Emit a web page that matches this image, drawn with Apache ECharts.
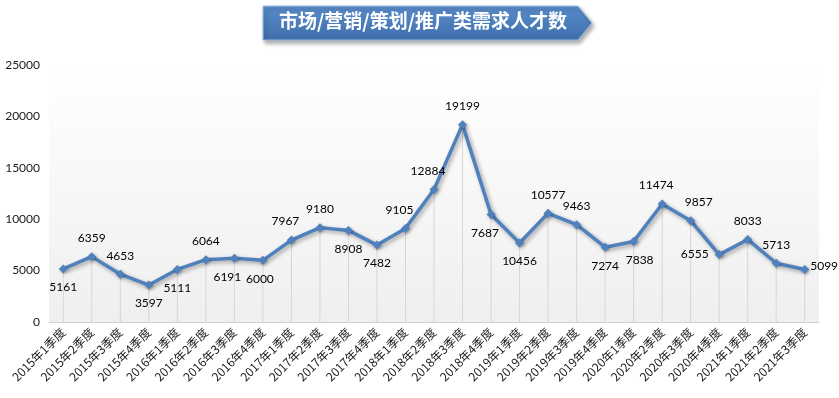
<!DOCTYPE html>
<html>
<head>
<meta charset="utf-8">
<script src="https://cdn.jsdelivr.net/npm/echarts@6/dist/echarts.min.js"></script>
<style>
  html, body { margin: 0; padding: 0; background: #fff; }
  #main { width: 839px; height: 398px; }
</style>
</head>
<body>
<div id="main"></div>
<script>
// 季度
var quarters = [
    '2015年1季度', '2015年2季度', '2015年3季度', '2015年4季度',
    '2016年1季度', '2016年2季度', '2016年3季度', '2016年4季度',
    '2017年1季度', '2017年2季度', '2017年3季度', '2017年4季度',
    '2018年1季度', '2018年2季度', '2018年3季度', '2018年4季度',
    '2019年1季度', '2019年2季度', '2019年3季度', '2019年4季度',
    '2020年1季度', '2020年2季度', '2020年3季度', '2020年4季度',
    '2021年1季度', '2021年2季度', '2021年3季度'
];
// 需求人才数（折线点的高度）
var demand = [
    5161, 6359, 4653, 3597,
    5111, 6064, 6191, 6000,
    7967, 9180, 8908, 7482,
    9105, 12884, 19199, 10456,
    7687, 10577, 9463, 7274,
    7838, 11474, 9857, 6555,
    8033, 5713, 5099
];
// 图上标注的文字（原图 2018年4季度 / 2019年1季度 两个标签是对调的）
var labelText = [
    5161, 6359, 4653, 3597,
    5111, 6064, 6191, 6000,
    7967, 9180, 8908, 7482,
    9105, 12884, 19199, 7687,
    10456, 10577, 9463, 7274,
    7838, 11474, 9857, 6555,
    8033, 5713, 5099
];
// 标签位置
var labelPos = [
    'bottom', 'top', 'top', 'bottom',
    'bottom', 'top', 'bottom', 'bottom',
    'top', 'top', 'bottom', 'bottom',
    'top', 'top', 'top', 'bottom',
    'bottom', 'top', 'top', 'bottom',
    'bottom', 'top', 'top', 'left',
    'top', 'top', 'right'
];
var yTicks = [0, 5000, 10000, 15000, 20000, 25000];

var myChart = echarts.init(document.getElementById('main'));

var lineData = demand.map(function (v, i) {
    var off = [0, 0];
    if (labelPos[i] === 'bottom') off = [0, 2];
    if (labelPos[i] === 'top') off = [0, -2];
    if (i === 6) off = [-7, 2];
    if (i === 7) off = [-3, 2];
    if (i === 15) off = [-6, 2];
    if (i === 8 || i === 12 || i === 13 || i === 21) off = [-6, -2];
    if (i === 20) off = [6, 2];
    if (i === 22) off = [8, -2];
    if (i === 26) off = [-5, -3];
    return {
        value: v,
        label: { position: labelPos[i], offset: off }
    };
});

var option = {
    animation: false,
    grid: {
        left: 49,
        right: 20,
        top: 65,
        bottom: 76,
        show: true,
        borderWidth: 0,
        backgroundColor: {
            type: 'linear', x: 0, y: 0, x2: 0, y2: 1,
            colorStops: [
                { offset: 0, color: '#ffffff' },
                { offset: 1, color: '#efefef' }
            ]
        }
    },
    graphic: [
        {
            type: 'polygon',
            shape: { points: [[263, 6], [578, 6], [592, 23], [578, 40], [263, 40]] },
            style: {
                fill: {
                    type: 'linear', x: 0, y: 0, x2: 0, y2: 1,
                    colorStops: [
                        { offset: 0, color: '#5a8dcc' },
                        { offset: 1, color: '#3e6eab' }
                    ]
                },
                stroke: '#9fbde3',
                lineWidth: 1,
                shadowColor: 'rgba(0,0,0,0.35)',
                shadowBlur: 4,
                shadowOffsetX: 2,
                shadowOffsetY: 3
            }
        },
        {
            type: 'text',
            left: 279,
            top: 11,
            style: {
                text: '市场/营销/策划/推广类需求人才数',
                fill: '#ffffff',
                font: 'bold 19px "Noto Sans CJK SC"'
            }
        }
    ],
    xAxis: {
        type: 'category',
        data: quarters,
        boundaryGap: true,
        axisLine: { lineStyle: { color: '#d0d0d0', width: 1 } },
        axisTick: { show: false },
        splitLine: { show: false },
        axisLabel: {
            interval: 0,
            rotate: 45,
            margin: 8,
            color: '#1a1a1a',
            fontSize: 12,
            fontFamily: 'Noto Sans CJK SC'
        }
    },
    yAxis: {
        type: 'value',
        min: yTicks[0],
        max: yTicks[yTicks.length - 1],
        interval: 5000,
        axisLine: { show: false },
        axisTick: { show: false },
        splitLine: { show: false },
        axisLabel: {
            color: '#1a1a1a',
            fontSize: 12,
            fontFamily: 'Lato',
            margin: 9,
            formatter: function (v) { return String(v); }
        }
    },
    series: [
        {
            // 垂直线
            type: 'bar',
            data: demand,
            barWidth: 1,
            itemStyle: { color: '#d6d6d6' },
            silent: true,
            z: 1
        },
        {
            type: 'line',
            data: lineData,
            symbol: 'diamond',
            symbolSize: 9,
            z: 3,
            lineStyle: {
                color: '#4f81bd',
                width: 3.5,
                shadowColor: 'rgba(0,0,0,0.35)',
                shadowBlur: 4,
                shadowOffsetX: 2,
                shadowOffsetY: 2
            },
            itemStyle: {
                color: '#4f81bd',
                shadowColor: 'rgba(0,0,0,0.3)',
                shadowBlur: 3,
                shadowOffsetX: 1,
                shadowOffsetY: 1
            },
            label: {
                show: true,
                color: '#000',
                fontSize: 12,
                fontFamily: 'Lato',
                distance: 6,
                formatter: function (p) { return labelText[p.dataIndex]; }
            }
        }
    ]
};
myChart.setOption(option);
</script>
</body>
</html>
